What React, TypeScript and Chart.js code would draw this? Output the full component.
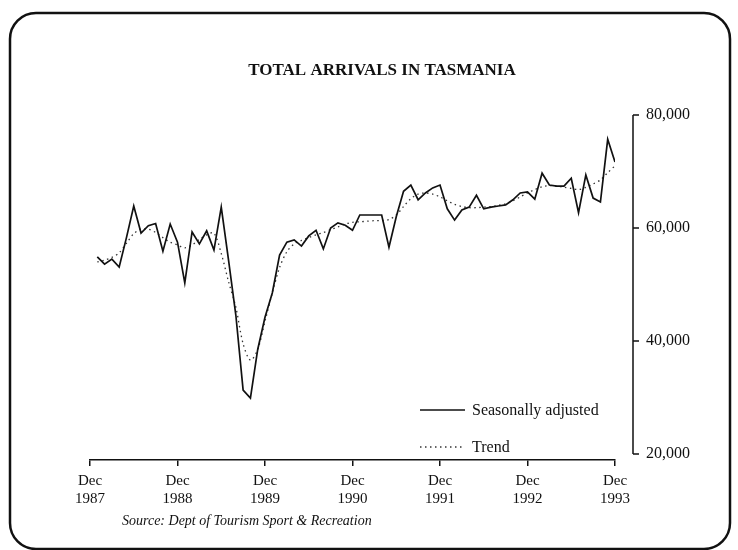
import React, { useEffect, useRef } from 'react';
import { Chart, registerables } from 'chart.js';

Chart.register(...registerables);

// ---- Data (monthly, Jan 1988 .. Dec 1993; x = months since Dec 1987) ----
const START_YEAR = 1987;
const X_TICK_YEARS = [1987, 1988, 1989, 1990, 1991, 1992, 1993];
const Y_TICKS = [20000, 40000, 60000, 80000];

const SEASONALLY_ADJUSTED = [
  54900, 53600, 54500, 53100, 58300, 63900, 59100, 60400, 60800, 55900, 60700, 57500,
  50300, 59300, 57200, 59500, 56100, 63700, 54300, 44600, 31300, 29900, 38500, 44200,
  48500, 55200, 57500, 57900, 56800, 58600, 59600, 56300, 60000, 60900, 60500, 59600,
  62300, 62300, 62300, 62300, 56600, 62000, 66500, 67600, 65000, 66200, 67100, 67600,
  63400, 61400, 63200, 63700, 65800, 63400, 63700, 63900, 64100, 65000, 66200, 66400,
  65100, 69700, 67600, 67400, 67400, 68800, 62700, 69400, 65300, 64600, 75700, 71700,
];

const TREND = [
  54000, 54300, 54800, 55600, 57300, 59000, 59800, 59800, 59200, 58300, 57500, 57000,
  56500, 57000, 58000, 58800, 59100, 55500, 50500, 46000, 39500, 36600, 38500, 43500,
  48500, 53000, 55800, 57200, 57800, 58300, 58800, 59200, 59700, 60200, 60700, 61000,
  61100, 61200, 61300, 61300, 61500, 62300, 63800, 65200, 66000, 66200, 66000, 65500,
  64800, 64200, 63800, 63600, 63600, 63700, 63800, 64000, 64300, 64800, 65500, 66200,
  66800, 67300, 67500, 67400, 67200, 67000, 66800, 67200, 67800, 68500, 69800, 71000,
];

const SERIES_LABELS = ['Seasonally adjusted', 'Trend'];
const TITLE = 'TOTAL ARRIVALS IN TASMANIA';
const SOURCE = 'Source: Dept of Tourism Sport & Recreation';

const Y_MIN = 18940; // axis floor sits a little below the 20,000 tick
const Y_MAX = 80000;

const FONT = '"Liberation Serif", "Times New Roman", serif';
const INK = '#111';

const framePlugin = {
  id: 'frame',
  beforeDraw(chart: any) {
    const ctx = chart.ctx;
    ctx.save();
    ctx.fillStyle = '#fff';
    ctx.fillRect(0, 0, chart.width, chart.height);
    ctx.strokeStyle = INK;
    ctx.lineWidth = 2.5;
    ctx.beginPath();
    (ctx as any).roundRect(10, 13, 720, 536, 26);
    ctx.stroke();
    ctx.restore();
  },
  afterDraw(chart: any) {
    const ctx = chart.ctx;
    const area = chart.chartArea;
    const y = chart.scales.y;
    ctx.save();

    // right-hand value axis, set off from the plot
    const ax = area.right + 18;
    const yTop = y.getPixelForValue(Y_TICKS[Y_TICKS.length - 1]);
    const yBot = y.getPixelForValue(Y_TICKS[0]);
    ctx.strokeStyle = INK;
    ctx.lineWidth = 1.5;
    ctx.beginPath();
    ctx.moveTo(ax, yTop);
    ctx.lineTo(ax, yBot);
    Y_TICKS.forEach((v) => {
      const py = y.getPixelForValue(v);
      ctx.moveTo(ax, py);
      ctx.lineTo(ax + 6, py);
    });
    ctx.stroke();

    // title
    ctx.fillStyle = INK;
    ctx.textAlign = 'center';
    ctx.textBaseline = 'middle';
    ctx.font = `bold 17px ${FONT}`;
    ctx.fillText(TITLE, 382, 71);

    // legend
    const ds = chart.data.datasets;
    const lx0 = area.right - 195;
    const lx1 = area.right - 150;
    const tx = area.right - 143;
    const rows = [410, 447];
    ds.forEach((d: any, i: number) => {
      const ry = rows[i];
      ctx.beginPath();
      ctx.strokeStyle = d.borderColor;
      ctx.lineWidth = d.borderWidth;
      ctx.setLineDash(d.borderDash || []);
      ctx.moveTo(lx0, ry);
      ctx.lineTo(lx1, ry);
      ctx.stroke();
      ctx.setLineDash([]);
      ctx.fillStyle = INK;
      ctx.textAlign = 'left';
      ctx.textBaseline = 'middle';
      ctx.font = `16px ${FONT}`;
      ctx.fillText(d.label, tx, ry + 1);
    });

    // source note
    ctx.font = `italic 14px ${FONT}`;
    ctx.textAlign = 'left';
    ctx.textBaseline = 'middle';
    ctx.fillText(SOURCE, 122, 521);
    ctx.restore();
  },
};

export default function App() {
  const ref = useRef<HTMLCanvasElement | null>(null);

  useEffect(() => {
    if (!ref.current) return;
    const chart = new Chart(ref.current, {
      type: 'line',
      data: {
        datasets: [
          {
            label: SERIES_LABELS[0],
            data: SEASONALLY_ADJUSTED.map((v, i) => ({ x: i + 1, y: v })),
            borderColor: INK,
            borderWidth: 1.7,
            pointRadius: 0,
            tension: 0,
            fill: false,
          },
          {
            label: SERIES_LABELS[1],
            data: TREND.map((v, i) => ({ x: i + 1, y: v })),
            borderColor: '#333',
            borderWidth: 1.3,
            borderDash: [1.5, 3.5],
            pointRadius: 0,
            tension: 0.3,
            fill: false,
          },
        ],
      },
      options: {
        animation: false,
        responsive: false,
        maintainAspectRatio: false,
        layout: { padding: { left: 90, top: 115, right: 23, bottom: 30 } },
        plugins: {
          legend: { display: false },
          title: { display: false },
          tooltip: { enabled: false },
        },
        scales: {
          x: {
            type: 'linear',
            position: 'bottom',
            min: 0,
            max: (X_TICK_YEARS.length - 1) * 12,
            afterFit: (s: any) => {
              s.height = 60;
            },
            afterBuildTicks: (s: any) => {
              s.ticks = X_TICK_YEARS.map((_, i) => ({ value: i * 12 }));
            },
            ticks: {
              autoSkip: false,
              maxRotation: 0,
              padding: 6,
              color: INK,
              font: { family: FONT, size: 15 },
              callback: (v: any) => ['Dec', String(START_YEAR + Number(v) / 12)],
            },
            grid: {
              display: true,
              drawOnChartArea: false,
              drawTicks: true,
              tickLength: 6,
              color: INK,
              lineWidth: 1.5,
            },
            border: { display: true, color: INK, width: 1.5 },
          },
          y: {
            type: 'linear',
            position: 'right',
            min: Y_MIN,
            max: Y_MAX,
            bounds: 'data',
            afterFit: (s: any) => {
              s.width = 100;
            },
            afterBuildTicks: (s: any) => {
              s.ticks = Y_TICKS.map((v) => ({ value: v }));
            },
            ticks: {
              padding: 31,
              color: INK,
              font: { family: FONT, size: 16 },
              callback: (v: any) => Number(v).toLocaleString('en-US'),
            },
            grid: { display: false, drawTicks: false },
            border: { display: false },
          },
        },
      } as any,
      plugins: [framePlugin],
    });
    return () => chart.destroy();
  }, []);

  return (
    <div style={{ position: 'fixed', left: 0, top: 0, width: 738, height: 550, background: '#fff' }}>
      <canvas ref={ref} width={738} height={550} style={{ display: 'block', width: 738, height: 550 }} />
    </div>
  );
}
